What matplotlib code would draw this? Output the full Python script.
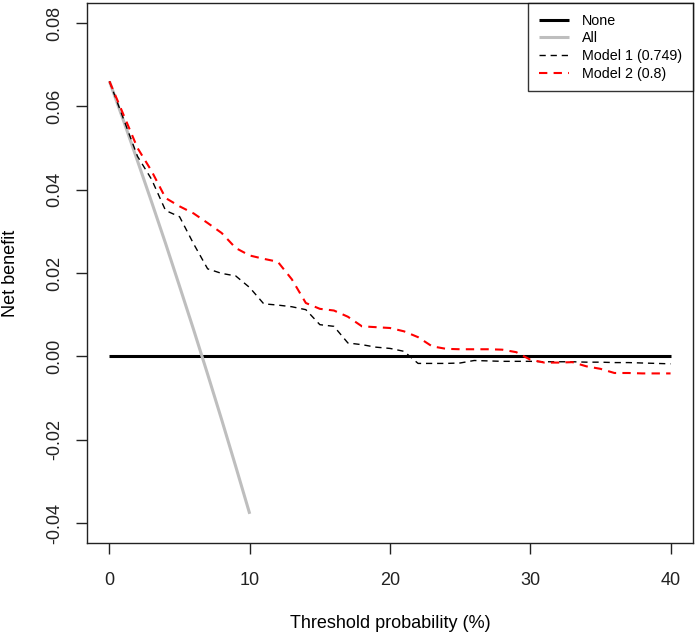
import matplotlib
matplotlib.use("Agg")
import matplotlib.pyplot as plt

plt.rcParams['font.family'] = ['Liberation Sans', 'DejaVu Sans']

thresholds = list(range(0, 41))
all_thresholds = list(range(0, 11))
none_values = [0.0] * 41
all_values = [0.066, 0.0566, 0.0469, 0.0371, 0.0271, 0.0168, 0.0064,
              -0.0043, -0.0152, -0.0264, -0.0378]
model1_values = [0.066, 0.057, 0.048, 0.0425, 0.035, 0.0335, 0.027, 0.021,
                 0.0199, 0.0193, 0.0165, 0.0126, 0.0123, 0.0119, 0.0112,
                 0.0076, 0.0072, 0.0032, 0.0028, 0.0022, 0.0019, 0.0012,
                 -0.0017, -0.0017, -0.0017, -0.0016, -0.0010, -0.0011,
                 -0.0012, -0.0012, -0.0012, -0.0013, -0.0013, -0.0013,
                 -0.0014, -0.0014, -0.0015, -0.0015, -0.0016, -0.0017,
                 -0.0018]
model2_values = [0.066, 0.058, 0.050, 0.0445, 0.038, 0.036, 0.0343, 0.032,
                 0.0296, 0.026, 0.0242, 0.0234, 0.0227, 0.0185, 0.0128,
                 0.0114, 0.0110, 0.0095, 0.0072, 0.0070, 0.0068, 0.0060,
                 0.0046, 0.0024, 0.0018, 0.0017, 0.0017, 0.0017, 0.0016,
                 0.0010, -0.0008, -0.0015, -0.0015, -0.0014, -0.0024,
                 -0.0030, -0.0040, -0.0040, -0.0041, -0.0041, -0.0041]
legend_labels = ["None", "All", "Model 1 (0.749)", "Model 2 (0.8)"]
x_ticks = [0, 10, 20, 30, 40]
y_ticks = [-0.04, -0.02, 0.00, 0.02, 0.04, 0.06, 0.08]

fig = plt.figure(figsize=(6.97, 6.36), dpi=100)
ax = fig.add_axes([87/697, 1 - 543/636, (693 - 87)/697, (543 - 3)/636])

ax.plot(thresholds, none_values, color='black', lw=2.2, label=legend_labels[0], solid_capstyle='butt')
ax.plot(all_thresholds, all_values, color='#BEBEBE', lw=2.2, label=legend_labels[1], solid_capstyle='butt')
ax.plot(thresholds, model1_values, color='black', lw=1.0, dashes=(4.5, 3.5), label=legend_labels[2])
ax.plot(thresholds, model2_values, color='red', lw=1.5, dashes=(4, 3), label=legend_labels[3])

ax.set_xlim(-1.6, 41.6)
ax.set_ylim(-0.0448, 0.0848)
ax.set_xticks(x_ticks)
ax.set_xticklabels([str(t) for t in x_ticks])
ax.set_yticks(y_ticks)
ax.set_yticklabels([f"{t:.2f}" for t in y_ticks], rotation=90, va='center')
ax.tick_params(axis='both', direction='out', length=7.7, width=1.0, labelsize=13, colors='#222222')
ax.tick_params(axis='x', pad=13.5)
ax.tick_params(axis='y', pad=9.5)
for s in ax.spines.values():
    s.set_linewidth(1.0)
    s.set_color('#222222')

ax.set_xlabel("Threshold probability (%)", fontsize=13, va='center')
ax.set_ylabel("Net benefit", fontsize=13, va='center')
ax.xaxis.set_label_coords(0.5, (543 - 624) / 540)
ax.yaxis.set_label_coords((10 - 87) / 606, 0.5)

leg = ax.legend(loc='upper right', borderaxespad=0, fontsize=10.3, frameon=True,
                fancybox=False, handlelength=2.1, handletextpad=0.95,
                labelspacing=0.26, borderpad=0.74)
leg.get_frame().set_edgecolor('black')
leg.get_frame().set_linewidth(1.0)

fig.savefig("out.png", dpi=100)
